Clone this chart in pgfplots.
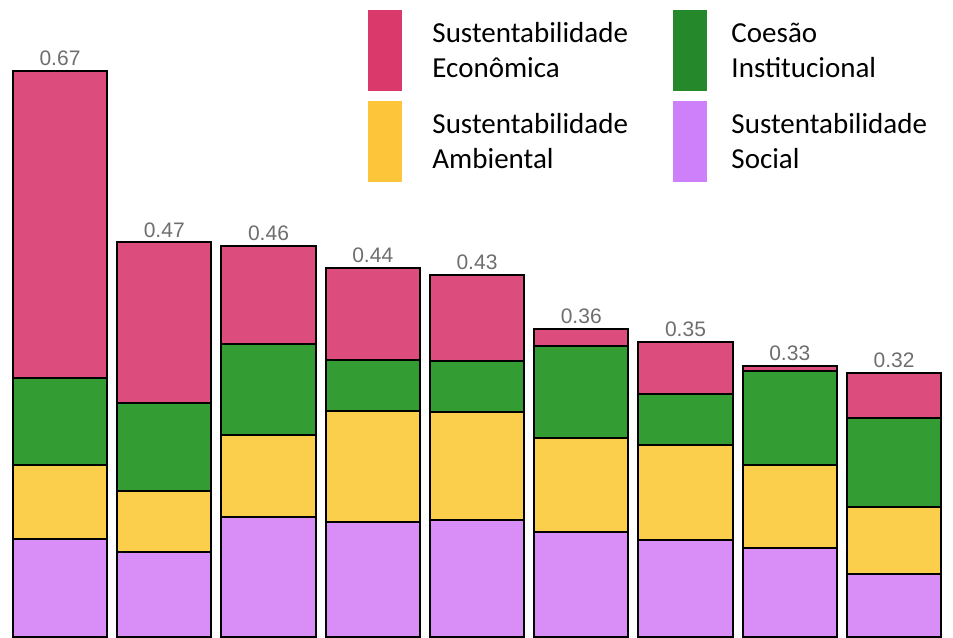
\documentclass[border=0pt]{standalone}
\usepackage{fontspec}
\setmainfont{Carlito}
\newfontfamily\arialfont{Liberation Sans}
\usepackage{pgfplots}
\pgfplotsset{compat=1.18}
\usepackage{pgfplotstable}
\definecolor{ecoB}{RGB}{220,76,125}
\definecolor{coeB}{RGB}{51,156,51}
\definecolor{ambB}{RGB}{251,207,75}
\definecolor{socB}{RGB}{217,141,247}
\definecolor{ecoL}{RGB}{217,58,107}
\definecolor{coeL}{RGB}{37,136,42}
\definecolor{ambL}{RGB}{253,198,58}
\definecolor{socL}{RGB}{206,127,250}
\definecolor{labgray}{RGB}{110,110,110}
\pgfplotstableread{
x soc amb coe eco top lab
0 0.118 0.088 0.102 0.362 0.00001 0.67
1 0.103 0.072 0.104 0.189 0.00001 0.47
2 0.145 0.096 0.107 0.116 0.00001 0.46
3 0.138 0.131 0.060 0.109 0.00001 0.44
4 0.141 0.127 0.060 0.102 0.00001 0.43
5 0.127 0.111 0.108 0.020 0.00001 0.36
6 0.117 0.112 0.061 0.061 0.00001 0.35
7 0.108 0.098 0.110 0.007 0.00001 0.33
8 0.077 0.079 0.105 0.053 0.00001 0.32
}\data
\begin{document}
\begin{tikzpicture}
\begin{axis}[
  scale only axis, width=953bp, height=637bp,
  hide axis,
  xmin=-0.5755, xmax=8.566, ymin=0.003, ymax=0.7538,
  ybar stacked, bar width=0.905,
  legend columns=2,
  legend cell align=left,
  legend style={draw=none, fill=none, inner sep=0pt, outer sep=0pt,
    at={(rel axis cs:0.3862,0.9843)}, anchor=north west,
    column sep=31bp, row sep=11bp,
    font=\fontsize{29bp}{35bp}\selectfont,
    nodes={inner sep=0pt, yshift=11bp},
    /tikz/every even column/.append style={column sep=45bp},
    /tikz/column 3/.append style={column sep=25bp}},
]
\addplot[fill=socB, draw=black, line width=2bp, forget plot] table[x=x,y=soc]{\data};
\addplot[fill=ambB, draw=black, line width=2bp, forget plot] table[x=x,y=amb]{\data};
\addplot[fill=coeB, draw=black, line width=2bp, forget plot] table[x=x,y=coe]{\data};
\addplot[fill=ecoB, draw=black, line width=2bp, forget plot] table[x=x,y=eco]{\data};
\addplot[draw=none, fill=none, forget plot,
  nodes near coords, point meta=explicit symbolic,
  nodes near coords style={font=\arialfont\fontsize{21bp}{21bp}\selectfont, text=labgray, anchor=south, inner sep=0pt, yshift=5bp}]
  table[x=x,y=top,meta=lab]{\data};
\addlegendimage{legend image code/.code={\fill[ecoL] (0bp,-40bp) rectangle (33bp,40bp);}}
\addlegendentry{\begin{tabular}{@{}l@{}}Sustentabilidade\\Econômica\end{tabular}}
\addlegendimage{legend image code/.code={\fill[coeL] (0bp,-40bp) rectangle (33bp,40bp);}}
\addlegendentry{\begin{tabular}{@{}l@{}}Coesão\\Institucional\end{tabular}}
\addlegendimage{legend image code/.code={\fill[ambL] (0bp,-40bp) rectangle (33bp,40bp);}}
\addlegendentry{\begin{tabular}{@{}l@{}}Sustentabilidade\\Ambiental\end{tabular}}
\addlegendimage{legend image code/.code={\fill[socL] (0bp,-40bp) rectangle (33bp,40bp);}}
\addlegendentry{\begin{tabular}{@{}l@{}}Sustentabilidade\\Social\end{tabular}}
\end{axis}
\pgfresetboundingbox
\path[use as bounding box] (current axis.south west) rectangle (current axis.north east);
\end{tikzpicture}
\end{document}
